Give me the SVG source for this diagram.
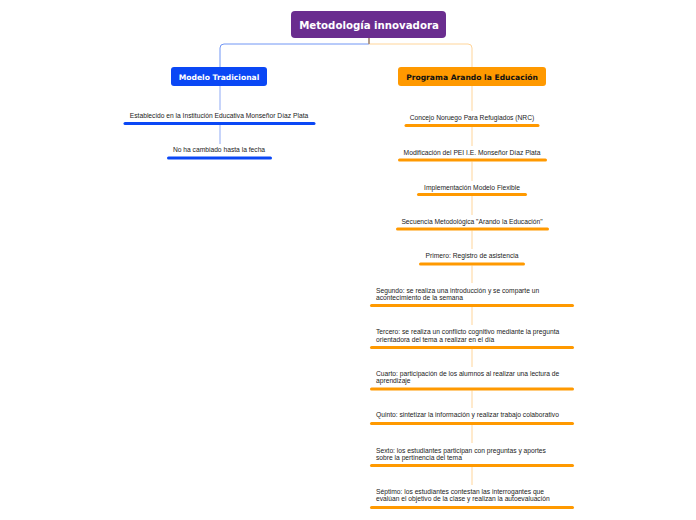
<svg xmlns="http://www.w3.org/2000/svg" width="696" height="520" viewBox="0 0 696 520">
<style>
.bg{fill:#ffffff}
.t{font-family:"Liberation Sans",Arial,sans-serif;font-size:6.7px;fill:#222}
.c{text-anchor:middle}
.bl{stroke:#0A47F5;stroke-width:3;stroke-linecap:round;fill:none}
.or{stroke:#FF9900;stroke-width:3;stroke-linecap:round;fill:none}
.cb{stroke:#7196F5;stroke-width:1;fill:none}
.cb2{stroke:#8FAAF5;stroke-width:1;fill:none}
.co{stroke:#FFD59A;stroke-width:1;fill:none}
.h{font-family:"DejaVu Sans",Verdana,sans-serif;font-weight:bold;text-anchor:middle}
</style>
<rect class="bg" x="0" y="0" width="696" height="520"/>
<g id="connectors">
<path class="cb" d="M369,38 V44 H224 Q220,44 220,48 V67"/>
<path class="co" d="M369,38 V44 H468 Q472,44 472,48 V67"/>
<path class="cb2" d="M220,86 V110 M220,125 V144"/>
<path class="co" d="M472,86 V111 M472,127 V146 M472,161.5 V181 M472,196 V215 M472,230.5 V249 M472,265.5 V283 M472,307 V325 M472,349 V367 M472,390.5 V408 M472,425 V443 M472,467 V485"/>
<path d="M369,38 V44" stroke="#8a6a50" stroke-width="1"/>
</g>
<g id="root">
<rect x="291" y="11" width="155" height="27" rx="4" fill="#6A2D8F"/>
<text class="h" x="369" y="28.5" font-size="10.2" fill="#ffffff">Metodología innovadora</text>
</g>
<g id="modelo">
<rect x="171" y="67" width="96" height="19" rx="3" fill="#0A47F5"/>
<text class="h" x="219" y="79.5" font-size="7.6" fill="#ffffff">Modelo Tradicional</text>
</g>
<g id="programa">
<rect x="398" y="67" width="148" height="19" rx="3" fill="#FF9900"/>
<text class="h" x="472" y="79.5" font-size="7.6" fill="#111111">Programa Arando la Educación</text>
</g>
<g id="establecido">
<text class="t c" x="219" y="118">Establecido en la Institución Educativa Monseñor Díaz Plata</text>
<path class="bl" d="M125,123.5 H314"/>
</g>
<g id="nocambiado">
<text class="t c" x="219" y="152">No ha cambiado hasta la fecha</text>
<path class="bl" d="M168.5,158 H270.5"/>
</g>
<g id="nrc">
<text class="t c" x="472" y="120">Concejo Noruego Para Refugiados (NRC)</text>
<path class="or" d="M406,125.5 H538"/>
</g>
<g id="pei">
<text class="t c" x="472" y="155">Modificación del PEI I.E. Monseñor Díaz Plata</text>
<path class="or" d="M399.5,160 H545.5"/>
</g>
<g id="flexible">
<text class="t c" x="472" y="190">Implementación Modelo Flexible</text>
<path class="or" d="M418.5,194.5 H525.5"/>
</g>
<g id="secuencia">
<text class="t c" x="472" y="224">Secuencia Metodológica "Arando la Educación"</text>
<path class="or" d="M397.5,229 H547.5"/>
</g>
<g id="primero">
<text class="t c" x="472" y="258">Primero: Registro de asistencia</text>
<path class="or" d="M420.5,264 H523.5"/>
</g>
<g id="segundo">
<text class="t" x="376" y="292.5">Segundo: se realiza una introducción y se comparte un</text>
<text class="t" x="376" y="299.5">acontecimiento de la semana</text>
<path class="or" d="M371.5,305.5 H572.5"/>
</g>
<g id="tercero">
<text class="t" x="376" y="334">Tercero: se realiza un conflicto cognitivo mediante la pregunta</text>
<text class="t" x="376" y="341.5">orientadora del tema a realizar en el día</text>
<path class="or" d="M371.5,347.5 H572.5"/>
</g>
<g id="cuarto">
<text class="t" x="376" y="375.5">Cuarto: participación de los alumnos al realizar una lectura de</text>
<text class="t" x="376" y="383">aprendizaje</text>
<path class="or" d="M371.5,389 H572.5"/>
</g>
<g id="quinto">
<text class="t" x="376" y="417">Quinto: sintetizar la información y realizar trabajo colaborativo</text>
<path class="or" d="M371.5,423.5 H572.5"/>
</g>
<g id="sexto">
<text class="t" x="376" y="452.5">Sexto: los estudiantes participan con preguntas y aportes</text>
<text class="t" x="376" y="460">sobre la pertinencia del tema</text>
<path class="or" d="M371.5,465.5 H572.5"/>
</g>
<g id="septimo">
<text class="t" x="376" y="494">Séptimo: los estudiantes contestan las interrogantes que</text>
<text class="t" x="376" y="501">evalúan el objetivo de la clase y realizan la autoevaluación</text>
<path class="or" d="M371.5,507.5 H572.5"/>
</g>
</svg>
